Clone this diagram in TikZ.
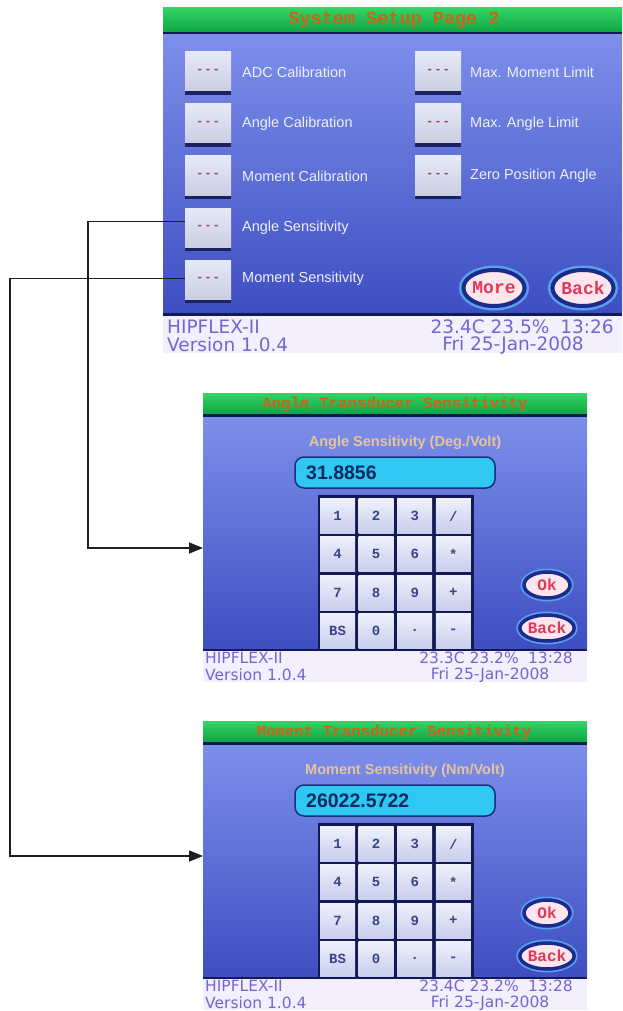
\documentclass[tikz,border=0pt]{standalone}
\usepackage{fontspec}
\setmainfont{Liberation Sans}
\newfontfamily\monofnt{Liberation Mono}
\newfontfamily\statfnt{DejaVu Sans}
\usetikzlibrary{arrows.meta,shapes.geometric,shadows}
\definecolor{greenA}{HTML}{34D466}
\definecolor{greenB}{HTML}{10A545}
\definecolor{titlec}{HTML}{CC6418}
\definecolor{blueA}{HTML}{7D8FEA}
\definecolor{blueB}{HTML}{3E4EC2}
\definecolor{navyc}{HTML}{121A55}
\definecolor{btnface}{HTML}{DCE0F5}
\definecolor{btnshadow}{HTML}{1A2360}
\definecolor{dotc}{HTML}{A04868}
\definecolor{labelc}{HTML}{EEF0FF}
\definecolor{statbg}{HTML}{F4EFFC}
\definecolor{stattext}{HTML}{7266D0}
\definecolor{subc}{HTML}{E8C49A}
\definecolor{dispfill}{HTML}{30C8F2}
\definecolor{displine}{HTML}{183080}
\definecolor{disptext}{HTML}{0A2A60}
\definecolor{keyA}{HTML}{EEF0FB}
\definecolor{keyB}{HTML}{C8CEEC}
\definecolor{keytext}{HTML}{3A4488}
\definecolor{ovalfill}{HTML}{FBE6EE}
\definecolor{ovalring}{HTML}{1B2A8C}
\definecolor{ovalglow}{HTML}{5AA0E8}
\definecolor{ovaltext}{HTML}{E03858}
\definecolor{connc}{HTML}{1E1E1E}
\newcommand\btndots{{\color{dotc}\bfseries -\hspace{4pt}-\hspace{4pt}-}}
\newcommand\kpscreen[7]{%
% #1 y offset, #2 prefix, #3 title, #4 subtitle, #5 value, #6 temps, #7 title x
\begin{scope}[shift={(0,#1)}]
\shade[top color=greenA, bottom color=greenB] (203,393) rectangle (587,414);
\fill[navyc] (203,414) rectangle (587,417);
\shade[top color=blueA, bottom color=blueB] (203,417) rectangle (587,649);
\fill[navyc] (203,649) rectangle (587,651);
\fill[statbg] (203,651) rectangle (587,682);
\node[titletxt, font=\monofnt\bfseries\fontsize{15.8}{16}\selectfont] (#2title) at (#7,404) {#3};
\node[subtxt] (#2sub) at (405,443) {#4};
\node[disp] (#2disp) at (395,472.5) {};
\node[valtxt] (#2val) at (306,473) {#5};
\fill[navyc] (318,495) rectangle (474,650);
\foreach \lab [count=\i from 0] in {1,2,3,/,4,5,6,*,7,8,9,+,BS,0,.,-} {
  \pgfmathtruncatemacro\cc{mod(\i,4)}
  \pgfmathtruncatemacro\rr{div(\i,4)}
  \node[keybox] (#2k\i) at ({337.5+38.6*\cc},{516+38.3*\rr}) {\lab};
}
\node[ovalsmall] (#2ok) at (547,585) {Ok};
\node[ovalsmall] (#2back) at (547,628) {Back};
\node[stat, font=\statfnt\fontsize{15.5}{16}\selectfont, anchor=west] (#2s1) at (205,658) {HIPFLEX-II};
\node[stat, font=\statfnt\fontsize{15.5}{16}\selectfont, anchor=west] (#2s2) at (205,675) {Version 1.0.4};
\node[stat, font=\statfnt\fontsize{15.5}{16}\selectfont, anchor=east] (#2s3) at (573,658) {#6};
\node[stat, font=\statfnt\fontsize{15.5}{16}\selectfont] (#2s4) at (490,675) {Fri 25-Jan-2008};
\end{scope}}
\begin{document}
\begin{tikzpicture}[x=1pt,y=-1pt,
  titletxt/.style={inner sep=0, text=titlec},
  btn/.style={rectangle, inner sep=0, minimum width=46pt, minimum height=39pt,
    top color=btnface!70!white, bottom color=btnface!92!black,
    drop shadow={shadow xshift=0pt, shadow yshift=-4pt, opacity=1, fill=btnshadow},
    font=\fontsize{13}{13}\selectfont},
  lbl/.style={anchor=west, inner sep=0, text=labelc, font=\fontsize{14.5}{15}\selectfont},
  ovalbig/.style={ellipse, inner sep=0, minimum width=60pt, minimum height=36pt,
    fill=ovalfill, draw=ovalring, line width=4pt,
    preaction={draw=ovalglow, line width=9pt},
    text=ovaltext, font=\monofnt\bfseries\fontsize{18}{18}\selectfont},
  ovalsmall/.style={ellipse, inner sep=0, minimum width=46pt, minimum height=26pt,
    fill=ovalfill, draw=ovalring, line width=3.5pt,
    preaction={draw=ovalglow, line width=7pt},
    text=ovaltext, font=\monofnt\bfseries\fontsize{16}{16}\selectfont},
  stat/.style={inner sep=0, text=stattext},
  subtxt/.style={inner sep=0, text=subc, font=\bfseries\fontsize{14.5}{15}\selectfont},
  disp/.style={rectangle, rounded corners=9pt, minimum width=200pt, minimum height=31pt,
    fill=dispfill, draw=displine, line width=1.5pt},
  valtxt/.style={anchor=west, inner sep=0, text=disptext, font=\bfseries\fontsize{19.5}{20}\selectfont},
  keybox/.style={rectangle, inner sep=0, minimum width=35pt, minimum height=35pt,
    top color=keyA, bottom color=keyB, text=keytext,
    font=\monofnt\bfseries\fontsize{14}{14}\selectfont},
  conn/.style={draw=connc, line width=1.4pt, -{Triangle[length=14pt,width=11pt]}}
]
\useasboundingbox (0,0) rectangle (623,1011);
\fill[white] (0,0) rectangle (623,1011);
% ---------- screen 1 ----------
\shade[top color=greenA, bottom color=greenB] (163,8) rectangle (622,32);
\fill[navyc] (163,32) rectangle (622,35);
\shade[top color=blueA, bottom color=blueB] (163,35) rectangle (622,313);
\fill[navyc] (163,313) rectangle (622,316);
\fill[statbg] (163,316) rectangle (622,353);
\node[titletxt, font=\monofnt\bfseries\fontsize{18.5}{19}\selectfont] (t1) at (394,20) {System Setup Page 2};
\node[btn] (bADC) at (208,71.5) {\btndots};
\node[btn] (bAC)  at (208,123.5) {\btndots};
\node[btn] (bMC)  at (208,175.5) {\btndots};
\node[btn] (bAS)  at (208,227.5) {\btndots};
\node[btn] (bMS)  at (208,279.5) {\btndots};
\node[btn] (bMML) at (438,71.5) {\btndots};
\node[btn] (bMAL) at (438,123.5) {\btndots};
\node[btn] (bZPA) at (438,175.5) {\btndots};
\node[lbl] (lADC) at (242,72) {ADC Calibration};
\node[lbl] (lAC)  at (242,124) {Angle Calibration};
\node[lbl] (lMC)  at (242,176) {Moment Calibration};
\node[lbl] (lAS)  at (242,228) {Angle Sensitivity};
\node[lbl] (lMS)  at (242,279) {Moment Sensitivity};
\node[lbl] (lMML) at (470,72) {Max. Moment Limit};
\node[lbl] (lMAL) at (470,124) {Max. Angle Limit};
\node[lbl] (lZPA) at (470,176) {Zero Position Angle};
\node[ovalbig] (more) at (494,288) {More};
\node[ovalbig] (back1) at (583,288) {Back};
\node[stat, font=\statfnt\fontsize{18.5}{19}\selectfont, anchor=west] (s1a) at (167,327) {HIPFLEX-II};
\node[stat, font=\statfnt\fontsize{18.5}{19}\selectfont, anchor=west] (s1b) at (167,345) {Version 1.0.4};
\node[stat, font=\statfnt\fontsize{18.5}{19}\selectfont, anchor=east] (s1c) at (614,327) {23.4C 23.5\%\hspace{0.6em}13:26};
\node[stat, font=\statfnt\fontsize{18.5}{19}\selectfont] (s1d) at (513,345) {Fri 25-Jan-2008};
% ---------- screen 2 and 3 ----------
\kpscreen{0}{a}{Angle Transducer Sensitivity}{Angle Sensitivity (Deg./Volt)}{31.8856}{23.3C 23.2\%\hspace{0.6em}13:28}{395}
\kpscreen{328}{m}{Moment Transducer Sensitivity}{Moment Sensitivity (Nm/Volt)}{26022.5722}{23.4C 23.2\%\hspace{0.6em}13:28}{394}
% ---------- connectors ----------
\coordinate (c1) at (88,0);
\coordinate (c2) at (10,0);
\coordinate (in2) at (203,548);
\coordinate (in3) at (203,856);
\draw[conn] ([yshift=6pt]bAS.west) -- ([yshift=6pt]bAS.west -| c1) |- (in2);
\draw[conn] ([yshift=1pt]bMS.west) -- ([yshift=1pt]bMS.west -| c2) |- (in3);
\end{tikzpicture}
\end{document}
